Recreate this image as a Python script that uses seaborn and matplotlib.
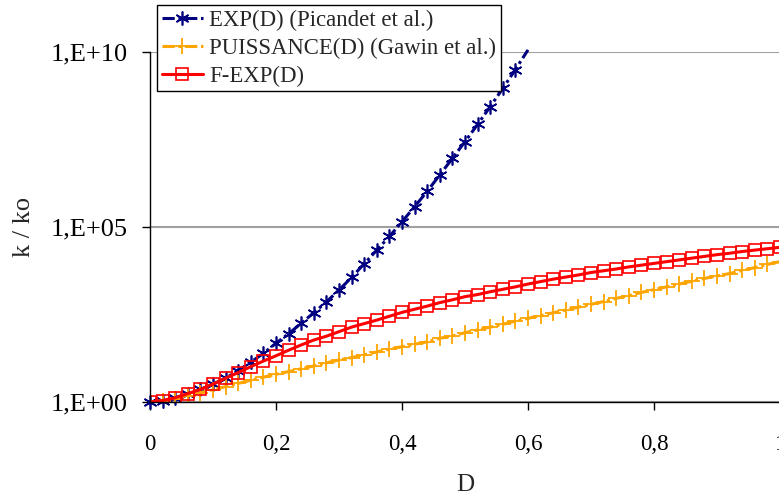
import numpy as np
import pandas as pd
import matplotlib
matplotlib.use("Agg")
import matplotlib.pyplot as plt
from matplotlib.ticker import FixedLocator, NullLocator
import seaborn as sns

# valeurs (exposants log10 de k/ko), pas de 0,02 en D
d_exp = [round(0.02 * i, 2) for i in range(31)]
log_exp = [0.0, 0.04, 0.12, 0.24, 0.36, 0.51, 0.68, 0.90, 1.14, 1.39,
           1.68, 1.95, 2.25, 2.55, 2.86, 3.20, 3.56, 3.95, 4.34, 4.73,
           5.15, 5.58, 6.02, 6.49, 6.96, 7.44, 7.93, 8.44, 8.96, 9.50,
           10.06]

d_all = [round(0.02 * i, 2) for i in range(51)]
log_puis = [0.0, 0.04, 0.10, 0.18, 0.27, 0.35, 0.44, 0.53, 0.62, 0.71,
            0.79, 0.87, 0.95, 1.03, 1.12, 1.20, 1.27, 1.35, 1.43, 1.51,
            1.58, 1.65, 1.72, 1.82, 1.89, 1.98, 2.06, 2.14, 2.22, 2.31,
            2.39, 2.47, 2.55, 2.63, 2.71, 2.79, 2.87, 2.96, 3.04, 3.13,
            3.21, 3.29, 3.37, 3.45, 3.53, 3.60, 3.67, 3.76, 3.84, 3.93,
            4.01]
log_fexp = [0.0, 0.04, 0.12, 0.24, 0.36, 0.51, 0.68, 0.84, 1.01, 1.17,
            1.32, 1.48, 1.63, 1.77, 1.88, 2.01, 2.14, 2.24, 2.34, 2.45,
            2.56, 2.65, 2.74, 2.84, 2.92, 3.01, 3.07, 3.15, 3.22, 3.29,
            3.37, 3.44, 3.51, 3.57, 3.63, 3.70, 3.75, 3.80, 3.86, 3.91,
            3.96, 4.01, 4.06, 4.11, 4.16, 4.21, 4.25, 4.30, 4.34, 4.38,
            4.42]

labels = ["EXP(D) (Picandet et al.)", "PUISSANCE(D) (Gawin et al.)", "F-EXP(D)"]
xticks = [0, 0.2, 0.4, 0.6, 0.8, 1.0]
xtick_labels = ["0", "0,2", "0,4", "0,6", "0,8", "1"]
yticks = [1e0, 1e5, 1e10]
ytick_labels = ["1,E+00", "1,E+05", "1,E+10"]

df_exp = pd.DataFrame({"D": d_exp, "k": 10.0 ** np.array(log_exp)})
df_puis = pd.DataFrame({"D": d_all, "k": 10.0 ** np.array(log_puis)})
df_fexp = pd.DataFrame({"D": d_all, "k": 10.0 ** np.array(log_fexp)})

sns.set_style("white")
plt.rcParams["font.family"] = ["Liberation Serif", "DejaVu Serif"]

fig = plt.figure(figsize=(7.79, 4.99), dpi=100)
ax = fig.add_axes([150 / 779, 1 - 402 / 499, 630 / 779, 350 / 499])

navy = "#000080"
orange = "#FFA500"
red = "#FF0000"
dashdot = (0, (4, 1.2, 1, 1.2))

sns.lineplot(data=df_exp, x="D", y="k", ax=ax, color=navy, lw=2.2,
             linestyle=dashdot, marker=(6, 2, 0), markersize=10,
             markeredgecolor=navy, markerfacecolor=navy, markeredgewidth=1.2,
             markevery=list(range(30)), clip_on=False, label=labels[0])
sns.lineplot(data=df_puis, x="D", y="k", ax=ax, color=orange, lw=2.2,
             linestyle=dashdot, marker="+", markersize=11,
             markeredgecolor=orange, markeredgewidth=1.3, label=labels[1])
sns.lineplot(data=df_fexp, x="D", y="k", ax=ax, color=red, lw=2.2,
             marker="s", markersize=9, markerfacecolor="none",
             markeredgecolor=red, markeredgewidth=1.2, label=labels[2])

ax.set_yscale("log")
ax.set_xlim(0, 1)
ax.set_ylim(1, 1e10)
ax.xaxis.set_major_locator(FixedLocator(xticks))
ax.set_xticklabels(xtick_labels)
ax.yaxis.set_major_locator(FixedLocator(yticks))
ax.yaxis.set_minor_locator(NullLocator())
ax.set_yticklabels(ytick_labels)
ax.tick_params(axis="both", direction="out", length=6, width=1, colors="black",
               bottom=True, left=True)
ax.tick_params(axis="x", pad=17, labelsize=16.5)
ax.tick_params(axis="y", pad=10, labelsize=19)

ax.yaxis.grid(True, color="#A0A0A0", lw=1.5)
ax.xaxis.grid(False)
for s in ["top", "right"]:
    ax.spines[s].set_visible(False)
for s in ["left", "bottom"]:
    ax.spines[s].set_color("black")
    ax.spines[s].set_linewidth(1)

ax.set_xlabel("D", fontsize=18, labelpad=14)
ax.set_ylabel("k / ko", fontsize=19, labelpad=11)

ax.legend_.remove()
handles, _ = ax.get_legend_handles_labels()
leg = fig.legend(handles, labels, loc="upper left",
                 bbox_to_anchor=(157 / 779, 1 - 5 / 499), fontsize=16.4,
                 frameon=True, fancybox=False, framealpha=1, edgecolor="black",
                 borderpad=0.2, labelspacing=0.3, handlelength=1.8,
                 handletextpad=0.3, borderaxespad=0)
leg.get_frame().set_linewidth(1)

fig.savefig("out.png", dpi=100)
